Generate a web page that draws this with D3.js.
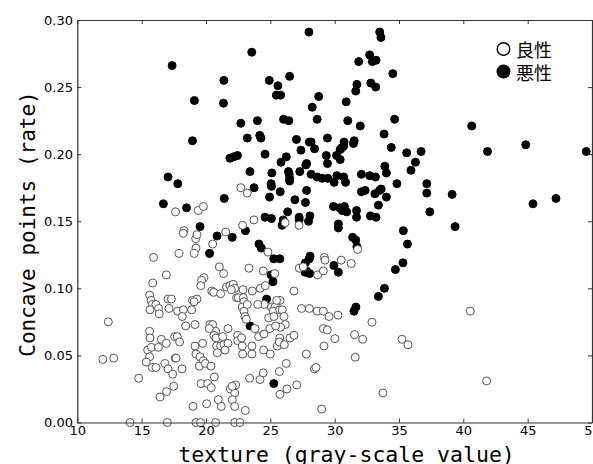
<!DOCTYPE html>
<html>
<head>
<meta charset="utf-8">
<script src="https://cdn.jsdelivr.net/npm/d3@7"></script>
<style>
  html, body { margin: 0; padding: 0; background: #fff; }
  svg { display: block; }
</style>
</head>
<body>
<svg id="chart" width="593" height="464"></svg>
<script>
// ---- data (texture, concave points rate) ----
const malignantTexture = [
  28.0, 33.5, 33.6, 23.56, 17.37, 32.72, 31.87, 32.93, 33.22, 34.52,
  21.39, 24.92, 26.5, 25.59, 31.73, 32.81, 33.19, 31.64, 25.47, 25.8,
  28.76, 19.1, 21.36, 30.9, 28.26, 26.03, 26.44, 24.0, 22.71, 28.64,
  31.02, 34.66, 40.65, 31.99, 33.84, 24.18, 24.27, 23.21, 27.03, 28.03,
  28.17, 29.44, 18.95, 30.73, 30.7, 31.52, 31.46, 34.4, 44.85, 27.38,
  28.44, 35.6, 36.72, 41.88, 49.55, 24.59, 26.24, 21.86, 22.15, 22.45,
  29.35, 30.14, 30.43, 29.44, 25.83, 27.82, 27.76, 36.28, 33.9, 35.93,
  34.02, 26.41, 26.47, 27.29, 23.42, 25.12, 25.06, 25.09, 26.5, 26.5,
  28.17, 28.64, 29.03, 29.47, 29.96, 30.17, 30.7, 30.85, 32.08, 32.72,
  33.17, 33.49, 33.61, 17.05, 17.81, 23.74, 27.82, 25.77, 37.16, 37.16,
  39.13, 34.84, 32.08, 32.37, 24.94, 21.42, 26.91, 27.73, 34.02, 33.4,
  16.69, 18.49, 29.91, 30.38, 30.58, 30.76, 30.93, 26.35, 31.7, 31.7,
  32.78, 33.22, 45.41, 47.2, 37.39, 24.59, 25.09, 26.0, 25.91, 27.24,
  27.24, 27.97, 30.29, 30.29, 39.36, 23.07, 19.54, 20.86, 22.04, 35.34,
  31.4, 31.64, 31.73, 24.12, 24.3, 35.66, 25.27, 25.74, 28.09, 28.03,
  27.73, 27.82, 27.7, 28.06, 29.94, 30.29, 34.72, 35.31, 20.28, 25.06,
  25.21, 33.87, 33.4, 31.65, 31.5, 24.71, 23.42, 25.27, 28.08, 30.54,
  30.43, 33.13
];
const malignantConcave = [
  0.291, 0.291, 0.287, 0.276, 0.266, 0.274, 0.269, 0.269, 0.270, 0.260,
  0.255, 0.255, 0.258, 0.251, 0.252, 0.253, 0.250, 0.247, 0.244, 0.244,
  0.243, 0.240, 0.238, 0.239, 0.235, 0.226, 0.225, 0.225, 0.223, 0.226,
  0.225, 0.226, 0.221, 0.221, 0.215, 0.214, 0.212, 0.212, 0.211, 0.209,
  0.209, 0.212, 0.210, 0.209, 0.206, 0.210, 0.208, 0.205, 0.207, 0.203,
  0.204, 0.201, 0.202, 0.202, 0.202, 0.200, 0.198, 0.197, 0.198, 0.199,
  0.199, 0.199, 0.196, 0.193, 0.194, 0.193, 0.192, 0.194, 0.191, 0.188,
  0.186, 0.187, 0.185, 0.187, 0.187, 0.186, 0.178, 0.176, 0.182, 0.180,
  0.185, 0.183, 0.182, 0.182, 0.179, 0.184, 0.183, 0.179, 0.185, 0.184,
  0.183, 0.173, 0.174, 0.183, 0.178, 0.175, 0.173, 0.172, 0.178, 0.171,
  0.170, 0.178, 0.172, 0.173, 0.168, 0.167, 0.166, 0.164, 0.168, 0.162,
  0.163, 0.160, 0.161, 0.160, 0.158, 0.161, 0.157, 0.157, 0.158, 0.153,
  0.154, 0.153, 0.163, 0.167, 0.157, 0.153, 0.152, 0.151, 0.147, 0.153,
  0.151, 0.150, 0.148, 0.145, 0.146, 0.143, 0.146, 0.139, 0.138, 0.143,
  0.138, 0.136, 0.131, 0.133, 0.130, 0.133, 0.122, 0.122, 0.124, 0.122,
  0.119, 0.113, 0.112, 0.111, 0.117, 0.112, 0.114, 0.119, 0.126, 0.110,
  0.105, 0.100, 0.094, 0.086, 0.083, 0.092, 0.072, 0.029, 0.154, 0.2046,
  0.2034, 0.1705
];
const benignTexture = [
  22.71, 23.21, 17.64, 19.4, 19.8, 22.85, 23.73, 27.23, 26.15, 18.29,
  18.24, 19.2, 19.3, 21.53, 20.52, 19.22, 19.09, 17.9, 15.93, 24.82,
  23.34, 24.45, 21.04, 21.37, 25.35, 27.25, 27.56, 28.68, 29.12, 16.92,
  15.86, 19.84, 19.66, 19.6, 20.45, 20.6, 21.14, 21.6, 21.86, 22.12,
  22.23, 21.97, 22.38, 22.51, 22.88, 23.6, 24.22, 24.61, 26.84, 15.62,
  15.73, 15.83, 15.65, 16.11, 16.32, 16.37, 17.05, 17.31, 17.13, 17.8,
  18.24, 18.16, 18.42, 18.89, 18.96, 19.3, 19.07, 19.15, 12.41, 11.98,
  12.83, 14.77, 15.62, 15.65, 15.47, 15.75, 15.62, 15.36, 15.83, 16.12,
  16.3, 16.53, 16.92, 16.81, 17.05, 17.41, 16.94, 16.43, 17.57, 17.77,
  17.95, 17.61, 17.67, 18.14, 17.49, 19.15, 19.74, 19.22, 19.53, 19.79,
  19.48, 19.95, 20.39, 20.65, 19.61, 20.13, 20.41, 20.05, 18.99, 20.96,
  21.19, 20.3, 20.52, 20.75, 20.62, 20.26, 20.78, 21.3, 20.83, 21.14,
  21.4, 21.71, 20.88, 21.48, 21.71, 21.89, 22.23, 22.05, 22.23, 23.06,
  22.31, 22.04, 22.46, 22.46, 22.77, 22.82, 22.85, 23.57, 23.57, 23.81,
  23.39, 24.2, 24.45, 24.09, 24.51, 24.48, 25.0, 25.54, 25.73, 25.7,
  26.09, 25.7, 26.24, 25.75, 26.29, 26.53, 26.84, 27.05, 27.8, 28.44,
  28.99, 22.9, 22.95, 22.82, 22.95, 23.03, 23.13, 23.21, 25.08, 25.36,
  25.75, 24.87, 25.23, 25.49, 25.73, 25.93, 26.06, 26.16, 25.8, 24.97,
  25.41, 25.28, 27.43, 28.03, 28.65, 29.12, 29.12, 29.43, 29.56, 29.17,
  24.53, 24.02, 14.1, 17.0, 19.22, 19.58, 20.75, 22.23, 22.64, 29.2,
  29.25, 30.51, 31.29, 31.79, 30.26, 31.55, 32.18, 32.9, 31.6, 35.23,
  35.7, 33.75, 28.55, 30.02, 40.54, 41.81
];
const benignConcave = [
  0.175, 0.171, 0.157, 0.158, 0.161, 0.147, 0.151, 0.147, 0.149, 0.143,
  0.141, 0.137, 0.140, 0.142, 0.133, 0.130, 0.126, 0.126, 0.123, 0.127,
  0.115, 0.113, 0.116, 0.111, 0.111, 0.115, 0.116, 0.110, 0.113, 0.110,
  0.104, 0.108, 0.106, 0.102, 0.098, 0.097, 0.096, 0.101, 0.102, 0.103,
  0.100, 0.099, 0.093, 0.093, 0.099, 0.098, 0.100, 0.102, 0.098, 0.095,
  0.091, 0.088, 0.084, 0.088, 0.085, 0.081, 0.092, 0.092, 0.085, 0.083,
  0.084, 0.079, 0.072, 0.084, 0.091, 0.092, 0.090, 0.073, 0.075, 0.047,
  0.048, 0.033, 0.068, 0.063, 0.054, 0.056, 0.049, 0.045, 0.041, 0.041,
  0.056, 0.062, 0.059, 0.044, 0.040, 0.036, 0.023, 0.019, 0.064, 0.064,
  0.060, 0.048, 0.048, 0.040, 0.027, 0.057, 0.059, 0.051, 0.049, 0.046,
  0.042, 0.044, 0.042, 0.034, 0.029, 0.029, 0.026, 0.014, 0.012, 0.017,
  0.012, 0.073, 0.073, 0.068, 0.065, 0.070, 0.063, 0.064, 0.057, 0.057,
  0.058, 0.059, 0.052, 0.054, 0.070, 0.025, 0.022, 0.017, 0.012, 0.009,
  0.028, 0.027, 0.065, 0.061, 0.063, 0.057, 0.051, 0.057, 0.051, 0.070,
  0.033, 0.032, 0.037, 0.064, 0.066, 0.054, 0.051, 0.057, 0.063, 0.060,
  0.058, 0.038, 0.044, 0.021, 0.025, 0.063, 0.065, 0.028, 0.051, 0.040,
  0.010, 0.093, 0.090, 0.086, 0.083, 0.079, 0.077, 0.088, 0.086, 0.086,
  0.091, 0.078, 0.083, 0.091, 0.084, 0.084, 0.079, 0.073, 0.071, 0.070,
  0.072, 0.079, 0.085, 0.085, 0.083, 0.083, 0.070, 0.069, 0.079, 0.057,
  0.088, 0.088, 0.000, 0.000, 0.000, 0.000, 0.000, 0.000, 0.000, 0.123,
  0.121, 0.121, 0.1185, 0.129, 0.080, 0.0655, 0.062, 0.0748, 0.0487, 0.062,
  0.058, 0.022, 0.041, 0.0625, 0.083, 0.031
];
const xTicks = [10, 15, 20, 25, 30, 35, 40, 45, 50];
const yTicks = [0.00, 0.05, 0.10, 0.15, 0.20, 0.25, 0.30];
const legendLabels = ["良性", "悪性"];
const xTitle = "texture (gray-scale value)";
const yTitle = "Concave points (rate)";

// ---- drawing ----
const svg = d3.select("#chart");
const mLeft = 77.3, mRight = 592, mTop = 20, mBottom = 422.5;
const x = d3.scaleLinear().domain([10, 50]).range([mLeft, mRight]);
const y = d3.scaleLinear().domain([0, 0.30]).range([mBottom, mTop]);

const benign = benignTexture.map((t, i) => ({ t, c: benignConcave[i] }));
const malignant = malignantTexture.map((t, i) => ({ t, c: malignantConcave[i] }));

const plot = svg.append("g");
plot.selectAll("circle.m").data(malignant).enter().append("circle")
  .attr("class", "m")
  .attr("cx", d => x(d.t)).attr("cy", d => y(d.c)).attr("r", 4)
  .attr("fill", "#000").attr("stroke", "#000").attr("stroke-width", 1);
plot.selectAll("circle.b").data(benign).enter().append("circle")
  .attr("class", "b")
  .attr("cx", d => x(d.t)).attr("cy", d => y(d.c)).attr("r", 4)
  .attr("fill", "#fff").attr("stroke", "#555").attr("stroke-width", 1);

const tickFont = "DejaVu Sans, sans-serif";
const gx = svg.append("g").attr("transform", `translate(0,${mBottom})`)
  .call(d3.axisBottom(x).tickValues(xTicks).tickFormat(d3.format("d"))
    .tickSizeInner(-4).tickSizeOuter(0).tickPadding(3.5));
const gxt = svg.append("g").attr("transform", `translate(0,${mTop})`)
  .call(d3.axisTop(x).tickValues(xTicks).tickFormat("")
    .tickSizeInner(-4).tickSizeOuter(0));
const gy = svg.append("g").attr("transform", `translate(${mLeft},0)`)
  .call(d3.axisLeft(y).tickValues(yTicks).tickFormat(d3.format(".2f"))
    .tickSizeInner(-4).tickSizeOuter(0).tickPadding(4.3));
const gyr = svg.append("g").attr("transform", `translate(${mRight},0)`)
  .call(d3.axisRight(y).tickValues(yTicks).tickFormat("")
    .tickSizeInner(-4).tickSizeOuter(0));
[gx, gxt, gy, gyr].forEach(g => {
  g.selectAll("path.domain").attr("stroke", "#333").attr("stroke-width", 1.2);
  g.selectAll(".tick line").attr("stroke", "#333").attr("stroke-width", 1);
  g.selectAll("text").attr("font-family", tickFont).attr("font-size", 13).attr("fill", "#000");
});

// axis titles
svg.append("text")
  .attr("x", 346.5).attr("y", 461.5)
  .attr("text-anchor", "middle")
  .attr("font-family", "DejaVu Sans Mono, monospace")
  .attr("font-size", 21.5)
  .attr("fill", "#000")
  .text(xTitle);
svg.append("text")
  .attr("transform", "translate(35,224) rotate(-90)")
  .attr("text-anchor", "middle")
  .attr("font-family", "DejaVu Sans Mono, monospace")
  .attr("font-size", 21)
  .attr("fill", "#000")
  .text(yTitle);

// legend
const legend = svg.append("g");
const legendY = [49, 71.5];
legendLabels.forEach((lab, i) => {
  legend.append("circle")
    .attr("cx", 503.5).attr("cy", legendY[i]).attr("r", 6.3)
    .attr("fill", i === 0 ? "#fff" : "#000")
    .attr("stroke", "#000").attr("stroke-width", 1.4);
  legend.append("text")
    .attr("x", 516).attr("y", legendY[i])
    .attr("dominant-baseline", "central")
    .attr("font-family", "Noto Sans CJK JP, sans-serif")
    .attr("font-size", 18)
    .attr("fill", "#000")
    .text(lab);
});
</script>
</body>
</html>
